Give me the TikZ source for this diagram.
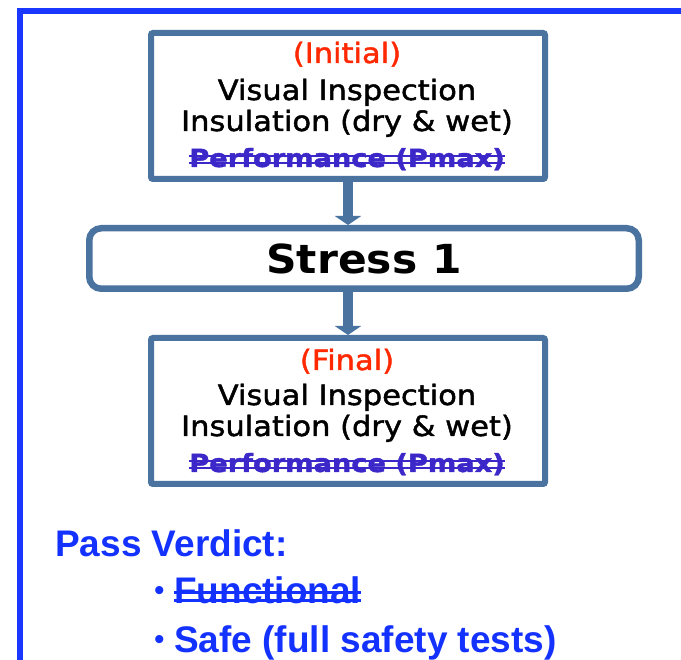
\documentclass[tikz,border=0pt]{standalone}
\usepackage{fontspec}
\setmainfont{DejaVu Sans}
\newfontfamily\boxfont[FakeStretch=1.09,FakeBold=1.5]{DejaVu Sans}
\newfontfamily\stressfont[FakeStretch=1.06]{DejaVu Sans}
\newfontfamily\arialfont{Liberation Sans}
\usetikzlibrary{arrows.meta}
\definecolor{boxblue}{RGB}{74,115,160}
\definecolor{framblue}{RGB}{25,55,255}
\definecolor{passblue}{RGB}{20,50,255}
\definecolor{initred}{RGB}{255,40,0}
\definecolor{perfblue}{RGB}{60,40,200}
\newcommand\dstrike[4]{%
  \setbox0=\hbox{#4}%
  \rlap{\rule[#1]{\wd0}{#3}}\rlap{\rule[#2]{\wd0}{#3}}\box0}
\begin{document}
\begin{tikzpicture}[x=1pt,y=-1pt,
  frame/.style={draw=framblue, line width=5.5pt, line join=miter},
  flowbox/.style={draw=boxblue, line width=6pt, rounded corners=2pt, fill=white,
    minimum width=394pt, minimum height=146pt, inner sep=0pt},
  stressbox/.style={draw=boxblue, line width=6.5pt, rounded corners=12pt, fill=white,
    minimum width=549.5pt, minimum height=60.5pt, inner sep=0pt,
    font=\stressfont\bfseries\fontsize{40}{44}\selectfont, text=black},
  conn/.style={draw=boxblue, line width=9.5pt, -{Triangle[width=26pt,length=9pt]}},
  boxtxt/.style={anchor=base, inner sep=0pt, font=\boxfont\fontsize{28}{30}\selectfont, text=black},
  perftxt/.style={anchor=base, inner sep=0pt, font=\boxfont\bfseries\fontsize{25}{28}\selectfont, text=perfblue},
  passtxt/.style={anchor=base west, inner sep=0pt, font=\arialfont\bfseries\fontsize{37}{40}\selectfont, text=passblue},
  bullettxt/.style={anchor=base west, inner sep=0pt, font=\arialfont\fontsize{30}{32}\selectfont, text=passblue}
]
\useasboundingbox (0,0) rectangle (681,660);
\draw[frame] (20,662) -- (20,11) -- (683,11);

\node[flowbox] (init) at (348,106) {};
\node[stressbox] (stress) at (364,258.5) {Stress 1};
\node[flowbox] (final) at (348,411) {};

\draw[conn] (init.south) -- (init.south |- stress.north);
\draw[conn] (stress.south -| final.north) -- (final.north);

\node[boxtxt, text=initred] (i1) at (347,63) {(Initial)};
\node[boxtxt] (i2) at (347,100) {Visual Inspection};
\node[boxtxt] (i3) at (347,131) {Insulation (dry \& wet)};
\node[perftxt] (i4) at (347,167) {\dstrike{3pt}{9.5pt}{2.4pt}{Performance (Pmax)}};

\node[boxtxt, text=initred] (f1) at (347,370) {(Final)};
\node[boxtxt] (f2) at (347,405) {Visual Inspection};
\node[boxtxt] (f3) at (347,436) {Insulation (dry \& wet)};
\node[perftxt] (f4) at (347,472) {\dstrike{3pt}{9.5pt}{2.4pt}{Performance (Pmax)}};

\node[passtxt] (pv) at (55,557) {Pass Verdict:};
\node[bullettxt] (b1) at (154,601) {•};
\node[passtxt] (fn) at (174,604) {\dstrike{2.5pt}{10pt}{2.8pt}{Functional}};
\node[bullettxt] (b2) at (154,649) {•};
\node[passtxt] (sf) at (174,652) {Safe (full safety tests)};
\end{tikzpicture}
\end{document}
